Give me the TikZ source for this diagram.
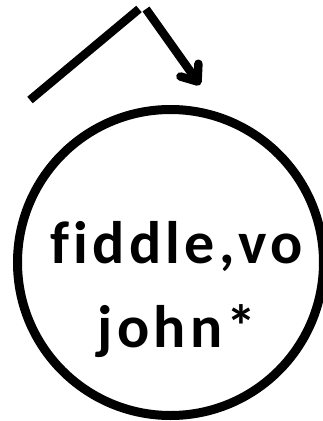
\documentclass[tikz,border=0pt]{standalone}
\usepackage{fontspec}
\newfontfamily\labelfont{Carlito}[LetterSpace=7,Ligatures={NoCommon}]
\usetikzlibrary{arrows.meta,positioning,calc}

\tikzset{
  ring/.style={draw,circle,line width=9pt,minimum size=306pt,inner sep=0pt},
  stroke/.style={line width=8.5pt},
  word/.style={font=\labelfont\bfseries\fontsize{60}{84}\selectfont,align=center,anchor=base,inner sep=0pt}
}

\begin{document}
\begin{tikzpicture}[x=1pt,y=-1pt]
        \useasboundingbox (0,0) rectangle (322,421);
        % Circle
        \node[ring] (ring) at (170.5,262.5) {};
        % Labels
        \node[word] (name) at (177,347) {fiddle,vo\\john*};
        % Pointer
        \coordinate (tail) at (30,100);
        \coordinate (bend) at (139,9);
        \coordinate (start) at (146,9);
        \coordinate (tip) at (200,85);
        \draw[stroke] (tail) -- (bend);
        \draw[stroke,-{Straight Barb[length=14pt,width=22pt,round]}] (start) -- (tip);
      \end{tikzpicture}
\end{document}
